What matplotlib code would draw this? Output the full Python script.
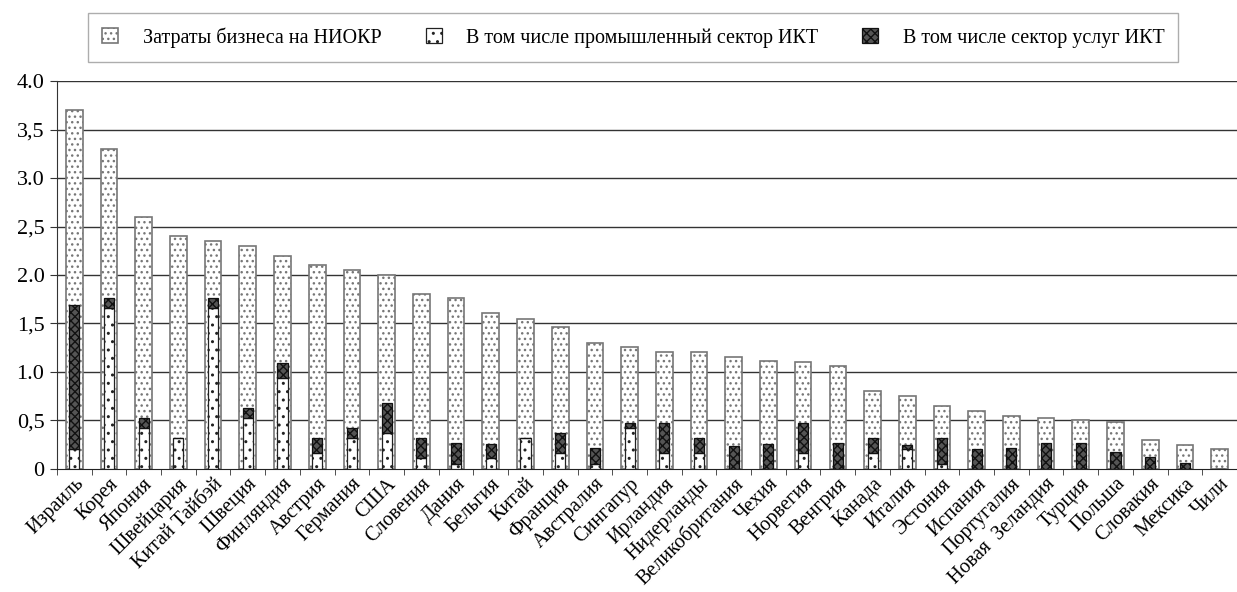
import numpy as np
import matplotlib
matplotlib.use('Agg')
import matplotlib.pyplot as plt

plt.rcParams['font.family'] = 'serif'
plt.rcParams['font.serif'] = ['Liberation Serif', 'Times New Roman', 'DejaVu Serif']
plt.rcParams['hatch.linewidth'] = 1.0

# страны и значения, % ВВП
countries = ['Израиль', 'Корея', 'Япония', 'Швейцария', 'Китай Тайбэй', 'Швеция',
             'Финляндия', 'Австрия', 'Германия', 'США', 'Словения', 'Дания',
             'Бельгия', 'Китай', 'Франция', 'Австралия', 'Сингапур', 'Ирландия',
             'Нидерланды', 'Великобритания', 'Чехия', 'Норвегия', 'Венгрия',
             'Канада', 'Италия', 'Эстония', 'Испания', 'Португалия',
             'Новая  Зеландия', 'Турция', 'Польша', 'Словакия', 'Мексика', 'Чили']
total = [3.70, 3.30, 2.60, 2.40, 2.35, 2.30, 2.20, 2.10, 2.05, 2.00, 1.80, 1.76,
         1.61, 1.55, 1.46, 1.30, 1.26, 1.21, 1.21, 1.15, 1.11, 1.10, 1.06,
         0.80, 0.75, 0.65, 0.60, 0.55, 0.52, 0.50, 0.48, 0.30, 0.25, 0.20]
industry = [0.21, 1.66, 0.42, 0.32, 1.66, 0.52, 0.94, 0.16, 0.32, 0.37, 0.11, 0.05,
            0.11, 0.32, 0.16, 0.05, 0.42, 0.16, 0.16, 0.00, 0.00, 0.16, 0.00,
            0.16, 0.20, 0.05, 0.00, 0.00, 0.00, 0.00, 0.00, 0.00, 0.00, 0.00]
services = [1.48, 0.10, 0.10, 0.00, 0.10, 0.11, 0.15, 0.16, 0.10, 0.31, 0.21, 0.22,
            0.15, 0.00, 0.21, 0.17, 0.05, 0.31, 0.16, 0.24, 0.26, 0.31, 0.27,
            0.16, 0.05, 0.27, 0.20, 0.22, 0.27, 0.27, 0.17, 0.12, 0.06, 0.00]
yticks = [0, 0.5, 1.0, 1.5, 2.0, 2.5, 3.0, 3.5, 4.0]
ytick_labels = ['0', '0,5', '1.0', '1,5', '2.0', '2,5', '3.0', '3,5', '4.0']

x = np.arange(len(countries))

fig = plt.figure(figsize=(12.37, 5.92), dpi=100)
ax = fig.add_axes([0.046, 0.208, 0.954, 0.655])

for y in yticks[1:]:
    ax.axhline(y, color='#333333', lw=1.0, zorder=0)

b1 = ax.bar(x, total, width=0.48, facecolor='white', edgecolor='#777777',
            hatch='...', lw=1.2, zorder=2, label='Затраты бизнеса на НИОКР')
b2 = ax.bar(x, industry, width=0.29, facecolor='white', edgecolor='#222222',
            hatch='..', lw=0.9, zorder=3, label='В том числе промышленный сектор ИКТ')
b3 = ax.bar(x, services, width=0.29, bottom=industry, facecolor='#555555',
            edgecolor='#111111', hatch='xxxx', lw=0.9, zorder=3,
            label='В том числе сектор услуг ИКТ')

ax.set_xlim(-0.5, len(countries) - 0.5)
ax.set_ylim(0, 4.0)
ax.set_yticks(yticks)
ax.set_yticklabels(ytick_labels, fontsize=16)
ax.set_xticks(x)
ax.set_xticklabels(countries, fontsize=14.5, rotation=45, ha='right',
                   rotation_mode='anchor')
ax.set_xticks(np.arange(len(countries) + 1) - 0.5, minor=True)
ax.tick_params(axis='x', which='major', length=0, pad=4)
ax.tick_params(axis='x', which='minor', length=4, color='#333333', direction='out')
ax.tick_params(axis='y', length=5, color='#333333', pad=4)

for s in ['top', 'right']:
    ax.spines[s].set_visible(False)
ax.spines['left'].set_color('#333333')
ax.spines['bottom'].set_color('#222222')

leg = fig.legend(handles=[b1, b2, b3], loc='center', bbox_to_anchor=(0.512, 0.937),
                 ncol=3, fontsize=14.5, frameon=True, fancybox=False,
                 edgecolor='#999999', handlelength=0.8, handleheight=0.8,
                 columnspacing=2.2, handletextpad=1.2, borderpad=0.7)
leg.get_frame().set_linewidth(1.0)

fig.savefig('out.png', dpi=100)
